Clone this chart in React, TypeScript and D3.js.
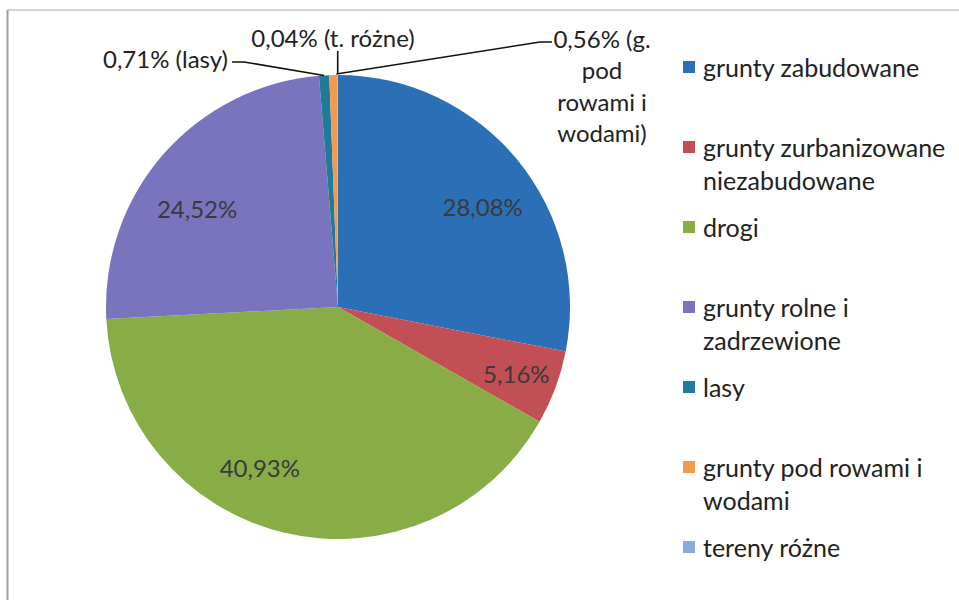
import React from 'react';
import * as d3 from 'd3';

const categories = [
  'grunty zabudowane',
  'grunty zurbanizowane niezabudowane',
  'drogi',
  'grunty rolne i zadrzewione',
  'lasy',
  'grunty pod rowami i wodami',
  'tereny różne',
];
// legend lines (how the legend wraps each category)
const legendLines = [
  ['grunty zabudowane'],
  ['grunty zurbanizowane', 'niezabudowane'],
  ['drogi'],
  ['grunty rolne i', 'zadrzewione'],
  ['lasy'],
  ['grunty pod rowami i', 'wodami'],
  ['tereny różne'],
];
const values = [28.08, 5.16, 40.93, 24.52, 0.71, 0.56, 0.04];
const shortNames = ['', '', '', '', 'lasy', 'g. pod rowami i wodami', 't. różne'];
const colors = ['#2b6fb6', '#c14f55', '#88ad47', '#7a73bd', '#1f7b97', '#f39a4e', '#8eaadd'];

const W = 959;
const H = 600;
const cx = 338;
const cy = 307;
const R = 232;
const FONT = 'Lato, Carlito, Calibri, sans-serif';
const FS = 24;

const fmt = (v: number) => d3.format('.2f')(v).replace('.', ',') + '%';

export default function App() {
  const pie = d3.pie<number>().sort(null).value((d) => d)(values);
  const arc = d3.arc<d3.PieArcDatum<number>>().innerRadius(0).outerRadius(R);

  // inside labels: radius fraction and small angle nudge per slice (Excel best fit)
  const insideTweak: Record<number, [number, number]> = {
    0: [0.76, 0.08],
    1: [0.82, 0],
    2: [0.77, 0.22],
    3: [0.74, -0.11],
  };

  const edge = (a: number, r: number) => [cx + r * Math.sin(a), cy - r * Math.cos(a)];
  const mid = (i: number) => (pie[i].startAngle + pie[i].endAngle) / 2;

  // outside labels
  const lasyPt = edge(mid(4), R);
  const rozPt = edge(mid(6), R);
  const rowPt = edge(mid(5), R);

  return (
    <svg width={W} height={H} style={{ position: 'absolute', left: 0, top: 0, background: '#fff' }}>
      <line x1={7.5} y1={10} x2={W} y2={10} stroke="#d4d4d4" strokeWidth={2} />
      <line x1={7.5} y1={10} x2={7.5} y2={H} stroke="#a0a0a0" strokeWidth={2} />
      <g transform={`translate(${cx},${cy})`}>
        {pie.map((p, i) => (
          <path key={i} d={arc(p) || ''} fill={colors[i]} />
        ))}
      </g>
      {pie.map((p, i) => {
        const t = insideTweak[i];
        if (!t) return null;
        const [x, y] = edge(mid(i) + t[1], R * t[0]);
        return (
          <text key={i} x={x} y={y} textAnchor="middle" dominantBaseline="central" fontFamily={FONT} fontSize={FS} fill="#3a3a3a">
            {fmt(values[i])}
          </text>
        );
      })}

      {/* lasy */}
      <polyline points={`${lasyPt[0]},${lasyPt[1]} 244,62 232,62`} fill="none" stroke="#111" strokeWidth={1.6} />
      <text x={228} y={58} textAnchor="end" dominantBaseline="central" fontFamily={FONT} fontSize={FS} fill="#222">
        {`${fmt(values[4])} (${shortNames[4]})`}
      </text>
      {/* tereny różne */}
      <polyline points={`${rozPt[0]},${rozPt[1] - 1} ${rozPt[0]},51`} fill="none" stroke="#111" strokeWidth={1.6} />
      <text x={333} y={37} textAnchor="middle" dominantBaseline="central" fontFamily={FONT} fontSize={FS} fill="#222">
        {`${fmt(values[6])} (${shortNames[6]})`}
      </text>
      {/* pod rowami */}
      <polyline points={`${rowPt[0] + 3},${rowPt[1] - 1} 540,42 552,42`} fill="none" stroke="#111" strokeWidth={1.6} />
      {[`${fmt(values[5])} (g.`, 'pod', 'rowami i', 'wodami)'].map((s, k) => (
        <text key={k} x={602} y={38 + k * 31.5} textAnchor="middle" dominantBaseline="central" fontFamily={FONT} fontSize={FS} fill="#222">
          {s}
        </text>
      ))}

      {/* legend */}
      {categories.map((c, i) => {
        const y0 = 67 + i * 80;
        return (
          <g key={c}>
            <rect x={683} y={y0 - 6} width={12} height={12} fill={colors[i]} />
            {legendLines[i].map((s, k) => (
              <text key={k} x={703} y={y0 + k * 33} dominantBaseline="central" fontFamily={FONT} fontSize={25} fill="#222">
                {s}
              </text>
            ))}
          </g>
        );
      })}
    </svg>
  );
}
